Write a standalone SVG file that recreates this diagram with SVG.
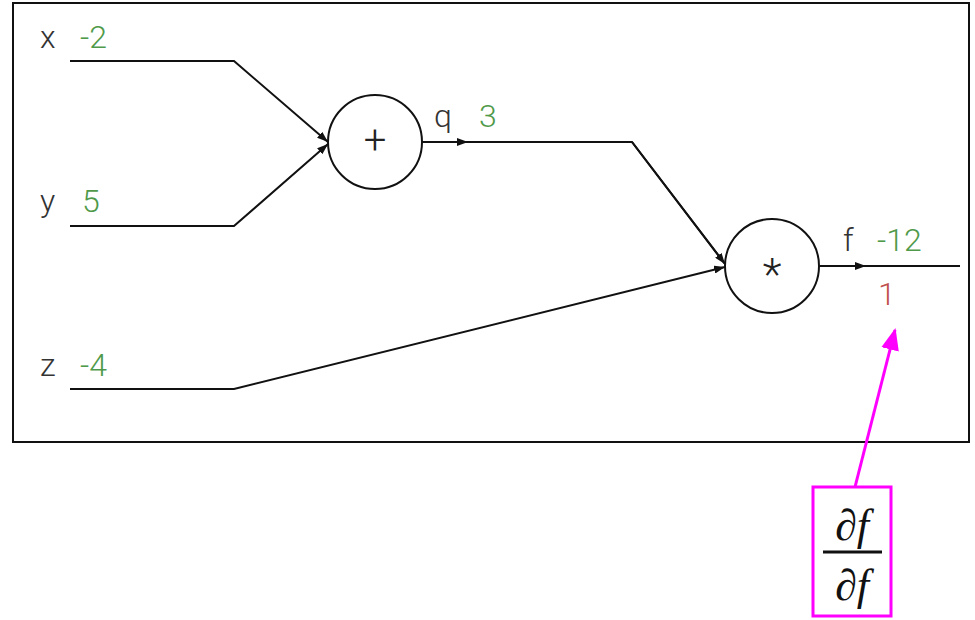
<svg xmlns="http://www.w3.org/2000/svg" width="975" height="620" viewBox="0 0 975 620">
<style>
.lbl{font-family:Roboto,"Liberation Sans",sans-serif;font-weight:300;font-size:32px;fill:#333}
.val{font-family:Roboto,"Liberation Sans",sans-serif;font-weight:300;font-size:32px;fill:#4f9a4a}
.grad{font-family:Roboto,"Liberation Sans",sans-serif;font-weight:300;font-size:32px;fill:#c0504d}
.op{font-family:Roboto,"Liberation Sans",sans-serif;font-weight:300;fill:#222;text-anchor:middle}
.edge{fill:none;stroke:#111;stroke-width:2}
.node{fill:#fff;stroke:#111;stroke-width:2}
.math{font-family:"Liberation Serif","DejaVu Serif",serif;font-style:italic;font-size:44px;fill:#111;text-anchor:middle}
</style>
<defs>
<marker id="ah" markerWidth="11" markerHeight="8" refX="11" refY="4" orient="auto" markerUnits="userSpaceOnUse">
<path d="M0,0 L11,4 L0,8 z" fill="#111"/>
</marker>
<marker id="mh" markerWidth="22" markerHeight="22" refX="20" refY="11" orient="auto" markerUnits="userSpaceOnUse">
<path d="M0,2 L22,11 L0,20 z" fill="#ff00ff"/>
</marker>
</defs>
<rect x="13" y="3" width="956" height="439" fill="#fff" stroke="#111" stroke-width="2"/>
<g id="connectors">
<path class="edge" d="M70,61 L234,61 L328,142" marker-end="url(#ah)"/>
<path class="edge" d="M70,226 L234,226 L328,144" marker-end="url(#ah)"/>
<path class="edge" d="M422,142 L468,142" marker-end="url(#ah)"/>
<path class="edge" d="M462,142 L632,142 L725,264"/>
<path class="edge" d="M632,142 L725,264" marker-end="url(#ah)"/>
<path class="edge" d="M70,389 L234,389 L725,267" marker-end="url(#ah)"/>
<path class="edge" d="M820,266 L866,266" marker-end="url(#ah)"/>
<path class="edge" d="M860,266 L960,266"/>
<path d="M855,487 L895,330" fill="none" stroke="#ff00ff" stroke-width="3" marker-end="url(#mh)"/>
</g>
<g id="x"><text class="lbl" x="40" y="48">x</text><text class="val" x="80" y="48">-2</text></g>
<g id="y"><text class="lbl" x="40" y="212">y</text><text class="val" x="82" y="212">5</text></g>
<g id="z"><text class="lbl" x="40" y="376">z</text><text class="val" x="80" y="376">-4</text></g>
<g id="plus"><circle class="node" cx="375" cy="142" r="47"/><text class="op" x="375" y="154" font-size="40">+</text></g>
<g id="q"><text class="lbl" x="434" y="127">q</text><text class="val" x="479" y="127">3</text></g>
<g id="times"><circle class="node" cx="772" cy="266" r="47"/><text class="op" x="772" y="290" font-size="44">*</text></g>
<g id="f"><text class="lbl" x="843" y="251">f</text><text class="val" x="877" y="251">-12</text><text class="grad" x="878" y="305">1</text></g>
<g id="deriv">
<rect x="813" y="487" width="78" height="129" fill="#fff" stroke="#ff00ff" stroke-width="3"/>
<text class="math" x="852" y="540">∂f</text>
<line x1="823" y1="552" x2="882" y2="552" stroke="#111" stroke-width="3"/>
<text class="math" x="852" y="600">∂f</text>
</g>
</svg>
